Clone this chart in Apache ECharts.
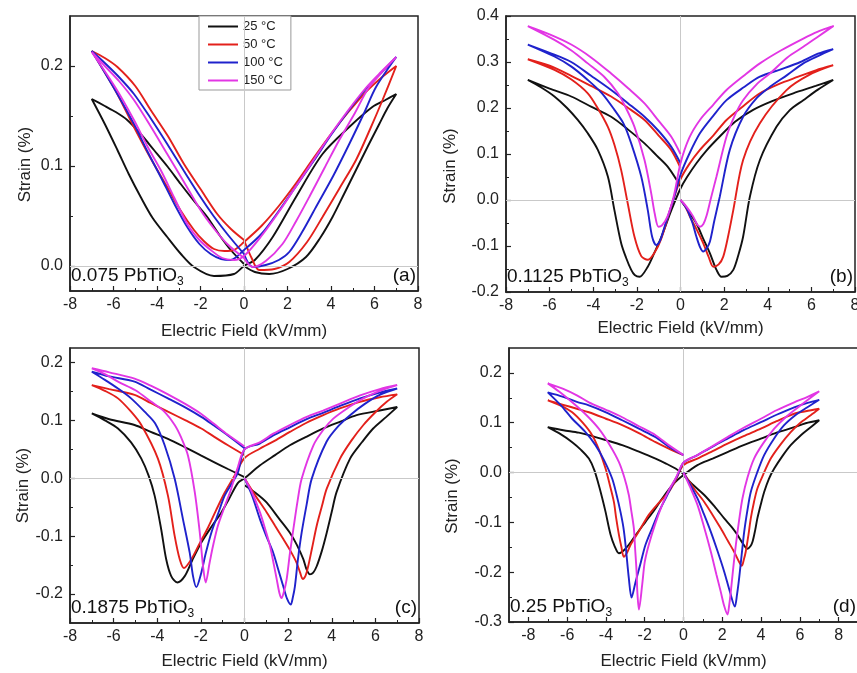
<!DOCTYPE html>
<html><head><meta charset="utf-8">
<script src="https://cdn.jsdelivr.net/npm/echarts@6/dist/echarts.min.js"></script>
<style>html,body{margin:0;padding:0;background:#fff}#c{width:857px;height:673px}</style>
</head><body><div id="c"></div>
<script>
// ---------- data (E in kV/mm, strain in %) ----------
const temps = ['25 °C', '50 °C', '100 °C', '150 °C'];
const panelNames = ['0.075', '0.1125', '0.1875', '0.25'];
const panelTags = ['(a)', '(b)', '(c)', '(d)'];

const xTicks = [-8, -6, -4, -2, 0, 2, 4, 6, 8];
const xMinor = [-7, -5, -3, -1, 1, 3, 5, 7];
const yTicksA = [0, 0.1, 0.2];
const yMinorA = [0.05, 0.15];
const yTicksB = [-0.2, -0.1, 0, 0.1, 0.2, 0.3, 0.4];
const yMinorB = [-0.15, -0.05, 0.05, 0.15, 0.25, 0.35];
const yTicksC = [-0.2, -0.1, 0, 0.1, 0.2];
const yMinorC = [-0.15, -0.05, 0.05, 0.15];
const yTicksD = [-0.3, -0.2, -0.1, 0, 0.1, 0.2];
const yMinorD = [-0.25, -0.15, -0.05, 0.05, 0.15];

// panel (a) 0.075 PbTiO3
const a25 = [[0,0.0],[0.5,-0.006],[1.16,-0.008],[2.0,-0.003],[2.85,0.009],[3.5,0.028],[4.07,0.049],[4.6,0.072],[5.15,0.096],[5.7,0.12],[6.22,0.142],[6.6,0.158],[7,0.172],
 [6.5,0.166],[5.9,0.159],[4.84,0.139],[3.61,0.112],[2.39,0.069],[1.32,0.029],[0.5,0.006],[0,0.0],
 [-0.46,-0.008],[-1.38,-0.010],[-2.3,-0.001],[-2.9,0.012],[-3.53,0.029],[-4.2,0.048],[-4.75,0.069],[-5.3,0.092],[-5.82,0.116],[-6.4,0.142],[-7,0.167],
 [-6.4,0.160],[-5.9,0.154],[-5.37,0.146],[-4.75,0.132],[-4.14,0.116],[-3.5,0.099],[-2.91,0.082],[-2.3,0.065],[-1.69,0.049],[-1.1,0.030],[-0.61,0.016],[0,0.002]];
const a50 = [[0,0.026],[0.35,0.008],[0.7,-0.004],[1.4,-0.003],[2.08,0.004],[2.9,0.024],[3.61,0.049],[4.4,0.078],[5.15,0.106],[5.8,0.137],[6.37,0.166],[7,0.200],
 [6.3,0.188],[5.6,0.174],[4.8,0.154],[4.07,0.134],[3.2,0.108],[2.4,0.083],[1.6,0.060],[0.8,0.040],[0,0.024],
 [-0.46,0.016],[-0.9,0.015],[-1.38,0.017],[-1.85,0.025],[-2.3,0.036],[-2.9,0.055],[-3.53,0.079],[-4.3,0.108],[-5.06,0.139],[-5.9,0.175],[-7,0.215],
 [-6.4,0.208],[-5.82,0.199],[-5.0,0.180],[-4.29,0.156],[-3.5,0.130],[-2.76,0.102],[-2.0,0.077],[-1.23,0.052],[-0.6,0.037],[0,0.026]];
const a100 = [[0,0.012],[0.4,-0.001],[1.0,0.001],[1.6,0.006],[2.08,0.014],[2.7,0.035],[3.31,0.059],[4.1,0.090],[4.84,0.122],[5.5,0.152],[6.07,0.179],[7,0.209],
 [6.3,0.193],[5.6,0.177],[4.8,0.155],[4.0,0.131],[3.2,0.105],[2.4,0.080],[1.6,0.055],[0.8,0.032],[0,0.016],
 [-0.61,0.006],[-1.05,0.007],[-1.53,0.012],[-2.05,0.022],[-2.61,0.039],[-3.2,0.062],[-3.83,0.089],[-4.45,0.115],[-5.06,0.142],[-5.9,0.175],[-7,0.215],
 [-6.4,0.203],[-5.75,0.189],[-5.06,0.172],[-4.3,0.148],[-3.53,0.122],[-2.76,0.095],[-2.0,0.069],[-1.4,0.050],[-0.77,0.032],[0,0.012]];
const a150 = [[0,0.008],[0.4,-0.001],[1.0,0.005],[1.77,0.022],[2.4,0.045],[3.0,0.069],[3.7,0.098],[4.38,0.126],[5.1,0.153],[5.76,0.179],[7,0.209],
 [6.3,0.194],[5.6,0.178],[4.8,0.156],[4.0,0.132],[3.2,0.106],[2.4,0.080],[1.6,0.054],[0.8,0.030],[0,0.010],
 [-0.46,0.006],[-1.0,0.008],[-1.53,0.016],[-2.05,0.026],[-2.61,0.042],[-3.2,0.068],[-3.83,0.096],[-4.45,0.120],[-5.06,0.146],[-5.9,0.178],[-7,0.214],
 [-6.4,0.200],[-5.75,0.185],[-5.06,0.166],[-4.3,0.140],[-3.53,0.112],[-2.76,0.084],[-2.0,0.056],[-1.4,0.038],[-0.77,0.022],[0,0.008]];

// panel (b) 0.1125 PbTiO3
const b25 = [[0,0],[0.3,-0.02],[0.73,-0.051],[1.05,-0.085],[1.35,-0.116],[1.65,-0.152],[1.88,-0.167],[2.15,-0.165],[2.42,-0.152],[2.65,-0.12],[2.87,-0.08],[3.18,0.007],[3.64,0.087],[4.4,0.159],[5.0,0.195],[5.63,0.217],[6.3,0.24],[7,0.261],
 [6.2,0.248],[5.17,0.232],[4.2,0.215],[3.33,0.196],[2.5,0.17],[1.8,0.138],[1.2,0.108],[0.73,0.080],[0.3,0.05],[0,0.025],
 [-0.4,-0.02],[-0.89,-0.082],[-1.2,-0.115],[-1.5,-0.145],[-1.88,-0.167],[-2.1,-0.163],[-2.26,-0.152],[-2.5,-0.125],[-2.72,-0.094],[-3.03,-0.022],[-3.33,0.051],[-3.79,0.109],[-4.25,0.145],[-4.71,0.174],[-5.2,0.2],[-5.78,0.225],[-6.4,0.245],[-7,0.261],
 [-6.0,0.242],[-5.01,0.225],[-4.1,0.203],[-3.18,0.181],[-2.4,0.153],[-1.65,0.123],[-1.1,0.097],[-0.58,0.072],[0,0.03]];
const b50 = [[0,0],[0.2,-0.012],[0.43,-0.036],[0.75,-0.065],[1.04,-0.094],[1.3,-0.125],[1.5,-0.145],[1.75,-0.14],[1.96,-0.123],[2.2,-0.075],[2.42,-0.022],[2.87,0.087],[3.64,0.167],[4.86,0.239],[5.9,0.272],[7,0.293],
 [6.2,0.282],[5.4,0.268],[4.5,0.252],[3.64,0.232],[2.9,0.205],[2.11,0.174],[1.5,0.14],[0.89,0.109],[0.4,0.078],[0,0.045],
 [-0.4,-0.01],[-0.89,-0.085],[-1.2,-0.115],[-1.5,-0.13],[-1.8,-0.122],[-2.11,-0.08],[-2.42,-0.007],[-2.72,0.065],[-3.03,0.12],[-3.33,0.159],[-3.8,0.2],[-4.25,0.232],[-5.0,0.262],[-5.78,0.283],[-7,0.306],
 [-6.0,0.292],[-5.01,0.270],[-4.1,0.248],[-3.18,0.225],[-2.4,0.2],[-1.65,0.174],[-1.0,0.14],[-0.43,0.109],[0,0.07]];
const b100 = [[0,0],[0.3,-0.02],[0.55,-0.05],[0.73,-0.08],[0.9,-0.103],[1.04,-0.112],[1.2,-0.105],[1.35,-0.09],[1.55,-0.045],[1.8,0.007],[2.26,0.109],[2.87,0.181],[3.5,0.222],[4.1,0.246],[4.9,0.272],[5.63,0.297],[6.3,0.313],[7,0.328],
 [6.3,0.318],[5.5,0.3],[4.6,0.284],[3.64,0.268],[2.9,0.245],[2.11,0.217],[1.5,0.183],[0.89,0.145],[0.4,0.1],[0,0.055],
 [-0.3,0.005],[-0.73,-0.058],[-0.95,-0.09],[-1.11,-0.098],[-1.3,-0.08],[-1.5,-0.022],[-1.8,0.051],[-2.26,0.123],[-2.6,0.165],[-3.03,0.196],[-3.6,0.232],[-4.25,0.261],[-5.0,0.29],[-5.78,0.312],[-7,0.338],
 [-6.0,0.320],[-5.01,0.300],[-4.1,0.27],[-3.18,0.239],[-2.4,0.21],[-1.65,0.181],[-1.0,0.15],[-0.43,0.116],[0,0.08]];
const b150 = [[0,0],[0.28,-0.015],[0.58,-0.036],[0.75,-0.052],[0.89,-0.058],[1.05,-0.052],[1.19,-0.035],[1.4,0.005],[1.65,0.051],[2.11,0.138],[2.5,0.185],[2.87,0.217],[3.5,0.252],[4.1,0.275],[4.9,0.31],[5.63,0.333],[6.3,0.355],[7,0.378],
 [6.3,0.366],[5.63,0.351],[4.6,0.325],[3.64,0.297],[2.9,0.27],[2.11,0.239],[1.5,0.207],[0.89,0.174],[0.4,0.135],[0,0.08],
 [-0.3,0.01],[-0.6,-0.036],[-0.85,-0.055],[-1.01,-0.058],[-1.18,-0.03],[-1.34,0.014],[-1.65,0.087],[-2.11,0.159],[-2.5,0.2],[-2.87,0.232],[-3.5,0.268],[-4.25,0.297],[-5.0,0.325],[-5.78,0.348],[-7,0.378],
 [-6.0,0.360],[-5.01,0.338],[-4.1,0.31],[-3.18,0.275],[-2.4,0.243],[-1.65,0.21],[-1.0,0.172],[-0.43,0.138],[0,0.1]];

// panel (c) 0.1875 PbTiO3
const c25 = [[0,-0.012],[0.5,-0.025],[1.02,-0.042],[1.55,-0.068],[2.08,-0.094],[2.4,-0.115],[2.7,-0.14],[2.85,-0.158],[3.0,-0.166],[3.15,-0.163],[3.31,-0.152],[3.55,-0.125],[3.77,-0.094],[4.0,-0.058],[4.22,-0.024],[4.84,0.034],[5.4,0.063],[5.9,0.086],[6.5,0.106],[7,0.123],
 [6.2,0.117],[5.14,0.109],[4.4,0.098],[3.61,0.086],[2.8,0.071],[2.08,0.057],[1.4,0.04],[0.7,0.022],[0,0.0],[-0.3,-0.008],
 [-0.7,-0.035],[-1.06,-0.059],[-1.5,-0.083],[-1.98,-0.111],[-2.4,-0.142],[-2.74,-0.169],[-3.08,-0.18],[-3.36,-0.169],[-3.59,-0.14],[-3.82,-0.088],[-4.12,-0.03],[-4.4,0.005],[-4.73,0.034],[-5.2,0.062],[-5.8,0.086],[-6.4,0.1],[-7,0.112],
 [-6.2,0.102],[-5.04,0.092],[-4.3,0.08],[-3.51,0.068],[-2.7,0.053],[-1.98,0.039],[-1.4,0.028],[-0.76,0.016],[0,0.002]];
const c50 = [[0,0],[0.5,-0.03],[1.02,-0.059],[1.4,-0.082],[1.78,-0.105],[2.1,-0.125],[2.39,-0.146],[2.55,-0.163],[2.67,-0.174],[2.8,-0.168],[2.92,-0.152],[3.1,-0.12],[3.31,-0.082],[3.55,-0.048],[3.77,-0.018],[4.38,0.034],[4.9,0.065],[5.45,0.092],[6.0,0.114],[6.52,0.132],[7,0.145],
 [6.2,0.14],[5.29,0.132],[4.4,0.121],[3.61,0.109],[2.8,0.095],[2.08,0.08],[1.4,0.065],[0.7,0.051],[0,0.035],
 [-0.45,0.005],[-0.91,-0.025],[-1.3,-0.055],[-1.67,-0.085],[-2.05,-0.112],[-2.44,-0.14],[-2.78,-0.155],[-2.97,-0.14],[-3.2,-0.1],[-3.51,-0.03],[-3.97,0.034],[-4.73,0.092],[-5.2,0.115],[-5.8,0.138],[-6.4,0.151],[-7,0.161],
 [-6.2,0.154],[-5.04,0.144],[-4.3,0.13],[-3.51,0.115],[-2.7,0.1],[-1.98,0.086],[-1.4,0.072],[-0.76,0.057],[0,0.04]];
const c100 = [[0,0],[0.35,-0.03],[0.71,-0.071],[1.0,-0.1],[1.32,-0.129],[1.55,-0.158],[1.78,-0.187],[1.95,-0.208],[2.12,-0.218],[2.22,-0.205],[2.31,-0.187],[2.45,-0.14],[2.62,-0.094],[2.85,-0.045],[3.08,-0.001],[3.76,0.063],[4.3,0.09],[4.84,0.109],[5.5,0.128],[6.2,0.144],[7,0.155],
 [6.2,0.148],[5.3,0.138],[4.38,0.125],[3.6,0.113],[2.85,0.102],[2.08,0.088],[1.32,0.074],[0.7,0.06],[0,0.05],
 [-0.3,0.01],[-0.6,-0.01],[-0.91,-0.03],[-1.2,-0.06],[-1.52,-0.094],[-1.78,-0.13],[-1.98,-0.163],[-2.21,-0.188],[-2.36,-0.169],[-2.51,-0.129],[-2.82,-0.071],[-3.2,-0.001],[-3.66,0.057],[-4.1,0.095],[-4.58,0.115],[-5.2,0.138],[-5.8,0.155],[-6.4,0.17],[-7,0.184],
 [-6.2,0.176],[-5.04,0.167],[-4.3,0.153],[-3.51,0.138],[-2.7,0.122],[-1.98,0.106],[-1.4,0.091],[-0.76,0.074],[0,0.052]];
const c150 = [[0,0],[0.35,-0.025],[0.71,-0.059],[0.95,-0.088],[1.17,-0.117],[1.35,-0.15],[1.48,-0.175],[1.6,-0.198],[1.7,-0.207],[1.8,-0.197],[1.93,-0.175],[2.08,-0.13],[2.24,-0.088],[2.43,-0.04],[2.62,-0.001],[3.16,0.057],[3.6,0.083],[4.07,0.103],[4.8,0.123],[5.45,0.138],[6.2,0.151],[7,0.161],
 [6.2,0.154],[5.3,0.143],[4.38,0.129],[3.6,0.117],[2.85,0.106],[2.08,0.092],[1.32,0.077],[0.7,0.062],[0,0.05],
 [-0.3,0.02],[-0.61,-0.018],[-0.9,-0.048],[-1.22,-0.082],[-1.45,-0.118],[-1.6,-0.146],[-1.78,-0.18],[-1.9,-0.152],[-2.05,-0.094],[-2.28,-0.024],[-2.59,0.039],[-2.9,0.07],[-3.2,0.092],[-3.7,0.116],[-4.27,0.132],[-5.0,0.152],[-5.8,0.167],[-6.4,0.18],[-7,0.19],
 [-6.2,0.183],[-5.04,0.172],[-4.3,0.16],[-3.51,0.145],[-2.7,0.128],[-1.98,0.111],[-1.4,0.094],[-0.76,0.075],[0,0.055]];

// panel (d) 0.25 PbTiO3
const d25 = [[0,-0.005],[0.5,-0.025],[1.07,-0.045],[1.6,-0.068],[2.1,-0.092],[2.5,-0.11],[2.78,-0.125],[3.05,-0.142],[3.3,-0.153],[3.45,-0.148],[3.56,-0.139],[3.7,-0.115],[3.81,-0.092],[4.0,-0.062],[4.16,-0.039],[4.4,-0.013],[4.68,0.008],[5.1,0.033],[5.53,0.055],[6.0,0.073],[6.56,0.091],[7,0.105],
 [6.3,0.099],[5.71,0.091],[4.8,0.08],[3.99,0.068],[3.1,0.055],[2.27,0.041],[1.5,0.028],[0.72,0.015],[0,-0.005],
 [-0.5,-0.022],[-1.1,-0.052],[-1.5,-0.075],[-1.96,-0.099],[-2.4,-0.122],[-2.82,-0.145],[-3.1,-0.157],[-3.33,-0.162],[-3.55,-0.148],[-3.76,-0.125],[-4.02,-0.079],[-4.2,-0.05],[-4.37,-0.025],[-4.6,0.005],[-4.88,0.028],[-5.3,0.046],[-5.74,0.061],[-6.3,0.076],[-7,0.091],
 [-6.2,0.085],[-5.4,0.08],[-4.88,0.075],[-4.0,0.065],[-3.16,0.055],[-2.3,0.042],[-1.44,0.028],[-0.9,0.018],[-0.41,0.008],[0,-0.003]];
const d50 = [[0,0],[0.5,-0.03],[1.07,-0.059],[1.5,-0.085],[1.92,-0.112],[2.3,-0.138],[2.61,-0.159],[2.85,-0.178],[3.01,-0.187],[3.11,-0.175],[3.21,-0.159],[3.35,-0.125],[3.47,-0.092],[3.63,-0.06],[3.81,-0.032],[4.1,-0.005],[4.5,0.028],[5.0,0.056],[5.53,0.081],[6.0,0.099],[6.56,0.115],[7,0.128],
 [6.3,0.123],[5.71,0.118],[4.8,0.103],[3.99,0.088],[3.1,0.073],[2.27,0.058],[1.5,0.043],[0.72,0.028],[0,0.015],
 [-0.4,-0.015],[-0.76,-0.039],[-1.3,-0.062],[-1.79,-0.085],[-2.3,-0.118],[-2.73,-0.145],[-2.9,-0.16],[-3.08,-0.169],[-3.2,-0.15],[-3.33,-0.125],[-3.47,-0.092],[-3.59,-0.059],[-3.8,-0.025],[-4.02,0.008],[-4.35,0.045],[-4.71,0.075],[-5.2,0.1],[-5.74,0.121],[-6.3,0.134],[-7,0.145],
 [-6.2,0.136],[-5.5,0.128],[-4.88,0.121],[-4.0,0.108],[-3.16,0.095],[-2.3,0.079],[-1.44,0.061],[-0.76,0.048],[0,0.035]];
const d100 = [[0,0],[0.35,-0.025],[0.72,-0.052],[1.05,-0.083],[1.41,-0.119],[1.75,-0.157],[2.1,-0.199],[2.4,-0.24],[2.65,-0.269],[2.76,-0.245],[2.87,-0.212],[3.0,-0.165],[3.13,-0.119],[3.3,-0.075],[3.47,-0.039],[3.8,0.0],[4.16,0.035],[4.65,0.067],[5.19,0.095],[5.8,0.116],[6.39,0.131],[7,0.146],
 [6.4,0.14],[5.71,0.131],[4.8,0.116],[3.99,0.101],[3.1,0.085],[2.27,0.068],[1.5,0.052],[0.72,0.035],[0,0.02],
 [-0.3,-0.005],[-0.58,-0.025],[-0.9,-0.05],[-1.27,-0.079],[-1.6,-0.11],[-1.96,-0.145],[-2.2,-0.18],[-2.47,-0.219],[-2.68,-0.251],[-2.82,-0.212],[-2.99,-0.145],[-3.1,-0.11],[-3.25,-0.079],[-3.45,-0.045],[-3.68,-0.012],[-4.1,0.025],[-4.54,0.055],[-5.1,0.083],[-5.74,0.108],[-6.3,0.134],[-7,0.161],
 [-6.2,0.152],[-5.5,0.142],[-4.88,0.135],[-4.0,0.121],[-3.16,0.105],[-2.3,0.088],[-1.44,0.071],[-0.76,0.052],[0,0.035]];
const d150 = [[0,0],[0.35,-0.03],[0.72,-0.065],[1.05,-0.108],[1.41,-0.159],[1.7,-0.205],[1.92,-0.239],[2.1,-0.268],[2.27,-0.285],[2.36,-0.265],[2.44,-0.239],[2.57,-0.19],[2.7,-0.145],[2.87,-0.095],[3.04,-0.052],[3.3,-0.01],[3.64,0.028],[4.1,0.058],[4.68,0.088],[5.3,0.112],[6.05,0.135],[7,0.163],
 [6.4,0.152],[5.71,0.141],[4.8,0.125],[3.99,0.108],[3.1,0.09],[2.27,0.071],[1.5,0.053],[0.72,0.035],[0,0.02],
 [-0.41,-0.012],[-0.75,-0.035],[-1.1,-0.065],[-1.45,-0.102],[-1.79,-0.145],[-2.0,-0.18],[-2.13,-0.225],[-2.3,-0.275],[-2.38,-0.24],[-2.42,-0.199],[-2.5,-0.15],[-2.56,-0.112],[-2.7,-0.075],[-2.82,-0.045],[-3.05,-0.01],[-3.33,0.021],[-3.8,0.055],[-4.37,0.088],[-5.0,0.115],[-5.74,0.141],[-6.4,0.162],[-7,0.179],
 [-6.2,0.168],[-5.5,0.155],[-4.88,0.141],[-4.0,0.126],[-3.16,0.111],[-2.3,0.093],[-1.44,0.075],[-0.76,0.055],[0,0.035]];

// ---------- layout / style ----------
const FONT = "'Liberation Sans', Arial, sans-serif";
const colors = ['#111111', '#e3201b', '#1f22cc', '#e236e4'];
const panels = [
  {data:[a25,a50,a100,a150], grid:{left:70, top:16, width:348, height:275}, x:[-8,8], y:[-0.025,0.25], yt:yTicksA, ym:yMinorA, yGap:36, xGap:32, yShift:22},
  {data:[b25,b50,b100,b150], grid:{left:506, top:16, width:349, height:276}, x:[-8,8], y:[-0.2,0.4], yt:yTicksB, ym:yMinorB, yGap:47, xGap:28, yShift:24},
  {data:[c25,c50,c100,c150], grid:{left:70, top:348, width:349, height:275}, x:[-8,8], y:[-0.25,0.225], yt:yTicksC, ym:yMinorC, yGap:36, xGap:30, yShift:0},
  {data:[d25,d50,d100,d150], grid:{left:509, top:348, width:349, height:274}, x:[-9,9], y:[-0.3,0.25], yt:yTicksD, ym:yMinorD, yGap:48, xGap:31, yShift:22}
];

const grid = [], xAxis = [], yAxis = [], series = [], graphic = [];
const labelStyle = {fontFamily: FONT, fontSize: 16, color: '#222'};
panels.forEach((p, i) => {
  grid.push(Object.assign({show: true, borderColor: '#222', borderWidth: 1.5, backgroundColor: 'transparent', outerBoundsMode: 'none'}, p.grid));
  xAxis.push({type: 'value', gridIndex: i, min: p.x[0], max: p.x[1],
    name: 'Electric Field (kV/mm)', nameLocation: 'middle', nameGap: p.xGap,
    nameTextStyle: {fontFamily: FONT, fontSize: 17, color: '#222'},
    axisLine: {show: true, onZero: false, lineStyle: {color: '#222', width: 1.5}},
    axisTick: {show: true, inside: true, length: 5, customValues: xTicks, lineStyle: {color: '#222', width: 1.2}},
    axisLabel: Object.assign({customValues: xTicks, margin: 6, formatter: v => String(v)}, labelStyle),
    splitLine: {show: false}});
  xAxis.push({type: 'value', gridIndex: i, min: p.x[0], max: p.x[1], position: 'bottom',
    axisLine: {show: false, onZero: false}, axisLabel: {show: false}, splitLine: {show: false},
    axisTick: {show: true, inside: true, length: 3, customValues: xMinor, lineStyle: {color: '#222', width: 1}}});
  yAxis.push({type: 'value', gridIndex: i, min: p.y[0], max: p.y[1],
    name: 'Strain (%)', nameLocation: 'middle', nameGap: p.yGap,
    nameTextStyle: {fontFamily: FONT, fontSize: 17, color: '#222', padding: [0, p.yShift, 0, 0]},
    axisLine: {show: true, onZero: false, lineStyle: {color: '#222', width: 1.5}},
    axisTick: {show: true, inside: true, length: 5, customValues: p.yt, lineStyle: {color: '#222', width: 1.2}},
    axisLabel: Object.assign({customValues: p.yt, margin: 7, formatter: v => v.toFixed(1)}, labelStyle),
    splitLine: {show: false}});
  yAxis.push({type: 'value', gridIndex: i, min: p.y[0], max: p.y[1], position: 'left',
    axisLine: {show: false, onZero: false}, axisLabel: {show: false}, splitLine: {show: false},
    axisTick: {show: true, inside: true, length: 3, customValues: p.ym, lineStyle: {color: '#222', width: 1}}});
  // zero reference lines
  series.push({type: 'line', xAxisIndex: 2*i, yAxisIndex: 2*i, data: [[0,0]], symbol: 'none',
    lineStyle: {width: 0}, silent: true, z: 1, animation: false,
    markLine: {silent: true, symbol: 'none', animation: false, label: {show: false},
      lineStyle: {color: '#c9c9c9', width: 1, type: 'solid'},
      data: [{xAxis: 0}, {yAxis: 0}]}});
  p.data.forEach((d, t) => {
    series.push({type: 'line', name: temps[t], xAxisIndex: 2*i, yAxisIndex: 2*i, data: d,
      symbol: 'none', smooth: 0.3, z: 3 + t, animation: false,
      lineStyle: {color: colors[t], width: 1.9}, itemStyle: {color: colors[t]}});
  });
  const g = p.grid;
  graphic.push({type: 'text', x: g.left + 1, y: g.top + g.height - 15, z: 100,
    style: {text: '{m|' + panelNames[i] + ' PbTiO}{s|3}', verticalAlign: 'middle',
      rich: {m: {fontSize: 19, fontFamily: FONT, fill: '#111'},
             s: {fontSize: 12, fontFamily: FONT, fill: '#111', padding: [11, 0, 0, 0]}}}});
  graphic.push({type: 'text', x: Math.min(g.left + g.width - 2, 856), y: g.top + g.height - 15, z: 100,
    style: {text: panelTags[i], font: '19px ' + FONT, fill: '#111', align: 'right', verticalAlign: 'middle'}});
});

const chart = echarts.init(document.getElementById('c'), null, {renderer: 'canvas'});
chart.setOption({
  animation: false,
  backgroundColor: '#fff',
  grid, xAxis, yAxis, series, graphic,
  legend: {data: temps, left: 199, top: 16, orient: 'vertical', icon: 'rect',
    itemWidth: 30, itemHeight: 2, itemGap: 5, padding: [4, 8, 3, 9],
    borderColor: '#999', borderWidth: 1, backgroundColor: '#fff',
    textStyle: {fontFamily: FONT, fontSize: 13, color: '#222'}}
});
</script></body></html>
